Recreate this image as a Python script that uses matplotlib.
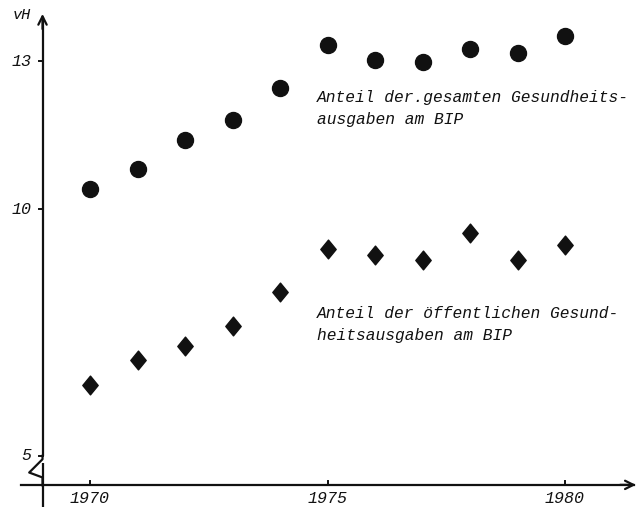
import matplotlib
matplotlib.use("Agg")
import matplotlib.pyplot as plt
from matplotlib.path import Path

years = [1970, 1971, 1972, 1973, 1974, 1975, 1976, 1977, 1978, 1979, 1980]
gesamt = [10.42, 10.81, 11.40, 11.82, 12.47, 13.34, 13.02, 12.98, 13.26, 13.16, 13.51]
oeffentlich = [6.44, 6.94, 7.23, 7.63, 8.32, 9.19, 9.08, 8.97, 9.52, 8.98, 9.28]
ytick_vals = [5, 10, 13]
ytick_labels = ["5", "10", "13"]
xtick_vals = [1970, 1975, 1980]
xtick_labels = ["1970", "1975", "1980"]
label_gesamt = "Anteil der.gesamten Gesundheits-\nausgaben am BIP"
label_oeff = "Anteil der öffentlichen Gesund-\nheitsausgaben am BIP"
y_unit = "vH"

ink = "#111111"
font = {"family": "Liberation Mono", "style": "italic"}

fig = plt.figure(figsize=(6.4, 5.07), dpi=100)
ax = fig.add_axes([0, 0, 1, 1])
ax.set_xlim(1968.105, 1981.579)
ax.set_ylim(3.961, 14.245)
ax.patch.set_alpha(0)
for s in ax.spines.values():
    s.set_visible(False)
ax.set_xticks([])
ax.set_yticks([])

x_axis_y = 4.41
y_axis_x = 1969.0

# axes lines
ax.plot([y_axis_x, y_axis_x], [3.7, 4.85], color=ink, lw=1.6, solid_capstyle="butt")
ax.plot([y_axis_x, y_axis_x], [5.0, 13.9], color=ink, lw=1.6, solid_capstyle="butt")
# break zigzag
ax.plot([y_axis_x, y_axis_x, y_axis_x - 0.28, y_axis_x, y_axis_x],
        [5.0, 4.93, 4.66, 4.56, 4.4], color=ink, lw=1.6)
ax.plot([1968.55, 1981.45], [x_axis_y, x_axis_y], color=ink, lw=1.6)
ax.annotate("", xy=(y_axis_x, 14.02), xytext=(y_axis_x, 13.6),
            arrowprops=dict(arrowstyle="->,head_length=0.6,head_width=0.3", color=ink, lw=1.6))
ax.annotate("", xy=(1981.55, x_axis_y), xytext=(1981.1, x_axis_y),
            arrowprops=dict(arrowstyle="->,head_length=0.6,head_width=0.3", color=ink, lw=1.6))

# ticks
for v, lab in zip(ytick_vals, ytick_labels):
    ax.plot([y_axis_x - 0.07, y_axis_x], [v, v], color=ink, lw=1.4)
    ax.text(y_axis_x - 0.23, v, lab, ha="right", va="center", fontsize=12, color=ink, **font)
for v, lab in zip(xtick_vals, xtick_labels):
    ax.plot([v, v], [x_axis_y, x_axis_y + 0.08], color=ink, lw=1.4)
    ax.text(v, x_axis_y - 0.13, lab, ha="center", va="top", fontsize=12, color=ink, **font)
ax.text(y_axis_x - 0.25, 13.95, y_unit, ha="right", va="center", fontsize=11, color=ink, **font)

# markers
diamond = Path([(0, 1), (0.82, 0), (0, -1), (-0.82, 0), (0, 1)],
               [Path.MOVETO, Path.LINETO, Path.LINETO, Path.LINETO, Path.CLOSEPOLY])
ax.plot(years, gesamt, linestyle="none", marker="o", markersize=11.5, color=ink)
ax.plot(years, oeffentlich, linestyle="none", marker=diamond, markersize=13.5, color=ink)

ax.text(1974.77, 12.05, label_gesamt, ha="left", va="center", fontsize=11.7,
        color=ink, linespacing=1.6, **font)
ax.text(1974.77, 7.67, label_oeff, ha="left", va="center", fontsize=11.7,
        color=ink, linespacing=1.6, **font)

fig.savefig("out.png", dpi=100)
